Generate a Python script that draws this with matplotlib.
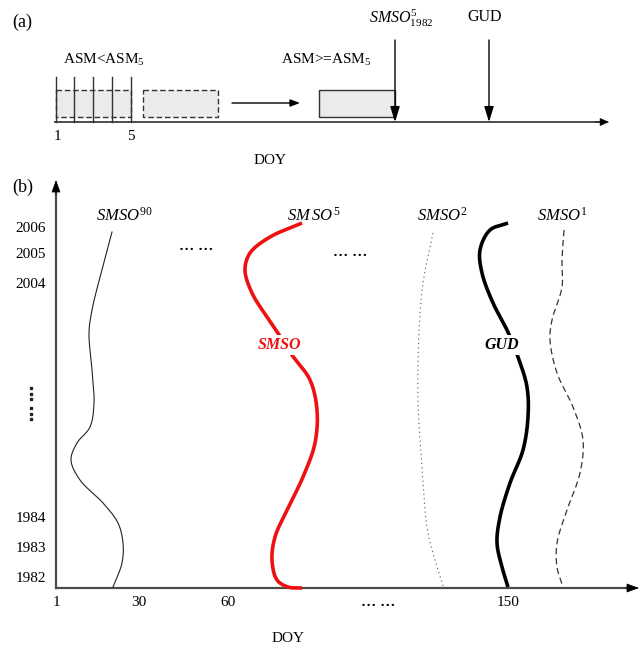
import numpy as np
import matplotlib
matplotlib.use("Agg")
import matplotlib.pyplot as plt
import matplotlib.patches as patches

plt.rcParams['font.family'] = ['Liberation Serif', 'DejaVu Serif']
plt.rcParams['mathtext.fontset'] = 'custom'
plt.rcParams['mathtext.rm'] = 'Liberation Serif'
plt.rcParams['mathtext.it'] = 'Liberation Serif:italic'
plt.rcParams['mathtext.bf'] = 'Liberation Serif:bold'

# ---- data (schematic; figure pixel units) ----
year_labels = ['2006', '2005', '2004', '1984', '1983', '1982']
year_pos = [228, 254, 284, 518, 548, 579]
doy_labels = ['1', '30', '60', '\u2026 \u2026', '150']
doy_pos = [56, 139, 228, 378, 508]

# curve control points: y levels (top -> bottom) and x positions
smso90_y = [232, 277, 310, 333, 370, 403, 427, 443, 460, 480, 503, 523, 543, 563, 587]
smso90_x = [112, 100, 92, 89, 92, 94, 90, 77, 71, 80, 103, 118, 123, 122, 113]

smso5_y = [223, 237, 253, 270, 293, 317, 333, 355, 380, 410, 443, 477, 510, 537, 560, 580, 587, 588]
smso5_x = [302, 270, 250, 245, 252, 267, 278, 292, 310, 317, 315, 303, 287, 275, 272, 277, 288, 302]

smso2_y = [233, 283, 333, 400, 467, 533, 586]
smso2_x = [433, 423, 419, 418, 422, 428, 443]

gud_y = [223, 230, 250, 273, 303, 330, 357, 387, 417, 450, 483, 517, 543, 567, 587]
gud_x = [508, 490, 480, 482, 493, 507, 518, 527, 528, 523, 510, 500, 497, 502, 508]

smso1_y = [230, 260, 287, 320, 340, 373, 407, 440, 473, 510, 543, 567, 587]
smso1_x = [564, 562, 562, 552, 550, 557, 573, 583, 580, 567, 557, 557, 563]


def smooth(xs, ys, n=25, alpha=0.5):
    # centripetal Catmull-Rom spline through the control points
    p = np.column_stack([xs, ys]).astype(float)
    p = np.vstack([2 * p[0] - p[1], p, 2 * p[-1] - p[-2]])
    out = []
    for i in range(1, len(p) - 2):
        p0, p1, p2, p3 = p[i - 1], p[i], p[i + 1], p[i + 2]
        t0 = 0.0
        t1 = t0 + max(np.linalg.norm(p1 - p0), 1e-6) ** alpha
        t2 = t1 + max(np.linalg.norm(p2 - p1), 1e-6) ** alpha
        t3 = t2 + max(np.linalg.norm(p3 - p2), 1e-6) ** alpha
        t = np.linspace(t1, t2, n, endpoint=False)[:, None]
        a1 = (t1 - t) / (t1 - t0) * p0 + (t - t0) / (t1 - t0) * p1
        a2 = (t2 - t) / (t2 - t1) * p1 + (t - t1) / (t2 - t1) * p2
        a3 = (t3 - t) / (t3 - t2) * p2 + (t - t2) / (t3 - t2) * p3
        b1 = (t2 - t) / (t2 - t0) * a1 + (t - t0) / (t2 - t0) * a2
        b2 = (t3 - t) / (t3 - t1) * a2 + (t - t1) / (t3 - t1) * a3
        out.append((t2 - t) / (t2 - t1) * b1 + (t - t1) / (t2 - t1) * b2)
    out.append(p[-2][None, :])
    out = np.vstack(out)
    return out[:, 0], out[:, 1]


fig = plt.figure(figsize=(6.39, 6.52), dpi=100)
ax = fig.add_axes([0, 0, 1, 1])
ax.set_xlim(0, 639)
ax.set_ylim(652, 0)
ax.axis('off')

axis_col = '#4d4d4d'
box_edge = '#333333'
box_fill = '#ebebeb'
PX = 72.0 / 100  # points per pixel


def arrow(x0, y0, x1, y1, length=10, width=7, color='black', lw=1.0):
    # length / width of the head in pixels
    style = '-|>,head_length=%.3f,head_width=%.3f' % (length * PX / 10, width / 2 * PX / 10)
    ax.annotate('', xy=(x1, y1), xytext=(x0, y0),
                arrowprops=dict(arrowstyle=style, color=color, lw=lw,
                                mutation_scale=10, shrinkA=0, shrinkB=0))


# ---------------- panel (a) ----------------
ax.text(12, 22, '(a)', fontsize=13, ha='left', va='center')
ax.plot([55, 600], [122, 122], color=axis_col, lw=1.4)
arrow(595, 122, 609, 122, length=8, width=7, lw=0.5)

ax.add_patch(patches.Rectangle((56, 90), 75, 27, facecolor=box_fill,
                               edgecolor=box_edge, lw=1.0, ls=(0, (4, 2))))
ax.add_patch(patches.Rectangle((143, 90), 75, 27, facecolor=box_fill,
                               edgecolor=box_edge, lw=1.0, ls=(0, (4, 2))))
for xv in [56, 74, 93, 112, 131]:
    ax.plot([xv, xv], [77, 122], color=box_edge, lw=1.0)
arrow(232, 103, 300, 103, length=8, width=6, lw=1.0)
ax.add_patch(patches.Rectangle((319, 90), 76, 27, facecolor=box_fill,
                               edgecolor=box_edge, lw=1.0))
arrow(395, 40, 395, 122, length=13, width=8, color='black', lw=1.0)
arrow(489, 40, 489, 122, length=13, width=8, color='black', lw=1.0)

ax.text(104, 60, r'ASM<ASM$_{5}$', fontsize=11, ha='center', va='center')
ax.text(326, 60, r'ASM>=ASM$_{5}$', fontsize=11, ha='center', va='center')
ax.text(401, 18, r'$\mathit{SMSO}_{\mathrm{1982}}^{\mathrm{5}}$', fontsize=11.5,
        ha='center', va='center')
ax.text(485, 17, 'GUD', fontsize=11.5, ha='center', va='center')
ax.text(57, 137, '1', fontsize=11, ha='center', va='center')
ax.text(131, 136, '5', fontsize=11, ha='center', va='center')
ax.text(270, 160, 'DOY', fontsize=11, ha='center', va='center')

# ---------------- panel (b) ----------------
ax.text(12, 187, '(b)', fontsize=13, ha='left', va='center')
ax.plot([56, 56], [588, 192], color=axis_col, lw=1.6)
ax.plot([56, 628], [588, 588], color=axis_col, lw=1.6)
arrow(56, 195, 56, 180, length=11, width=8, lw=0.5)
arrow(625, 588, 639, 588, length=11, width=8, lw=0.5)

for lab, yv in zip(year_labels, year_pos):
    ax.text(46, yv, lab, fontsize=11, ha='right', va='center')
for yv in [388, 394, 399, 408, 414, 419]:
    ax.plot(31, yv, 's', color='#222222', ms=1.8)
for lab, xv in zip(doy_labels, doy_pos):
    ax.text(xv, 603, lab, fontsize=11, ha='center', va='center',
            fontweight='bold' if '\u2026' in lab else 'normal')
ax.text(288, 638, 'DOY', fontsize=11, ha='center', va='center')

x, y = smooth(smso90_x, smso90_y)
ax.plot(x, y, color='#222222', lw=0.8)
x, y = smooth(smso5_x, smso5_y)
ax.plot(x, y, color='#ee1111', lw=2.6, solid_capstyle='butt')
x, y = smooth(smso2_x, smso2_y)
ax.plot(x, y, color='#555555', lw=0.8, ls=(0, (1, 3)))
x, y = smooth(gud_x, gud_y)
ax.plot(x, y, color='black', lw=2.6, solid_capstyle='butt')
x, y = smooth(smso1_x, smso1_y)
ax.plot(x, y, color='#333333', lw=0.9, ls=(0, (5, 3)))

ax.text(124, 216, r'$\mathit{SMSO}^{\mathrm{90}}$', fontsize=12, ha='center', va='center')
ax.text(314, 216, r'$\mathit{SM\,SO}^{\,\mathrm{5}}$', fontsize=12, ha='center', va='center')
ax.text(442, 216, r'$\mathit{SMSO}^{\mathrm{2}}$', fontsize=12, ha='center', va='center')
ax.text(562, 216, r'$\mathit{SMSO}^{\mathrm{1}}$', fontsize=12, ha='center', va='center')
ax.text(196, 247, '\u2026 \u2026', fontsize=11, ha='center', va='center', fontweight='bold')
ax.text(350, 252, '\u2026 \u2026', fontsize=11, ha='center', va='center', fontweight='bold')
ax.text(279, 345, 'SMSO', fontsize=11.5, ha='center', va='center', color='#ee1111',
        fontweight='bold', fontstyle='italic',
        bbox=dict(facecolor='white', edgecolor='none', pad=1.5))
ax.text(502, 345, 'GUD', fontsize=11.5, ha='center', va='center', color='black',
        fontweight='bold', fontstyle='italic',
        bbox=dict(facecolor='white', edgecolor='none', pad=1.5))

fig.savefig('out.png', dpi=100, facecolor='white')
